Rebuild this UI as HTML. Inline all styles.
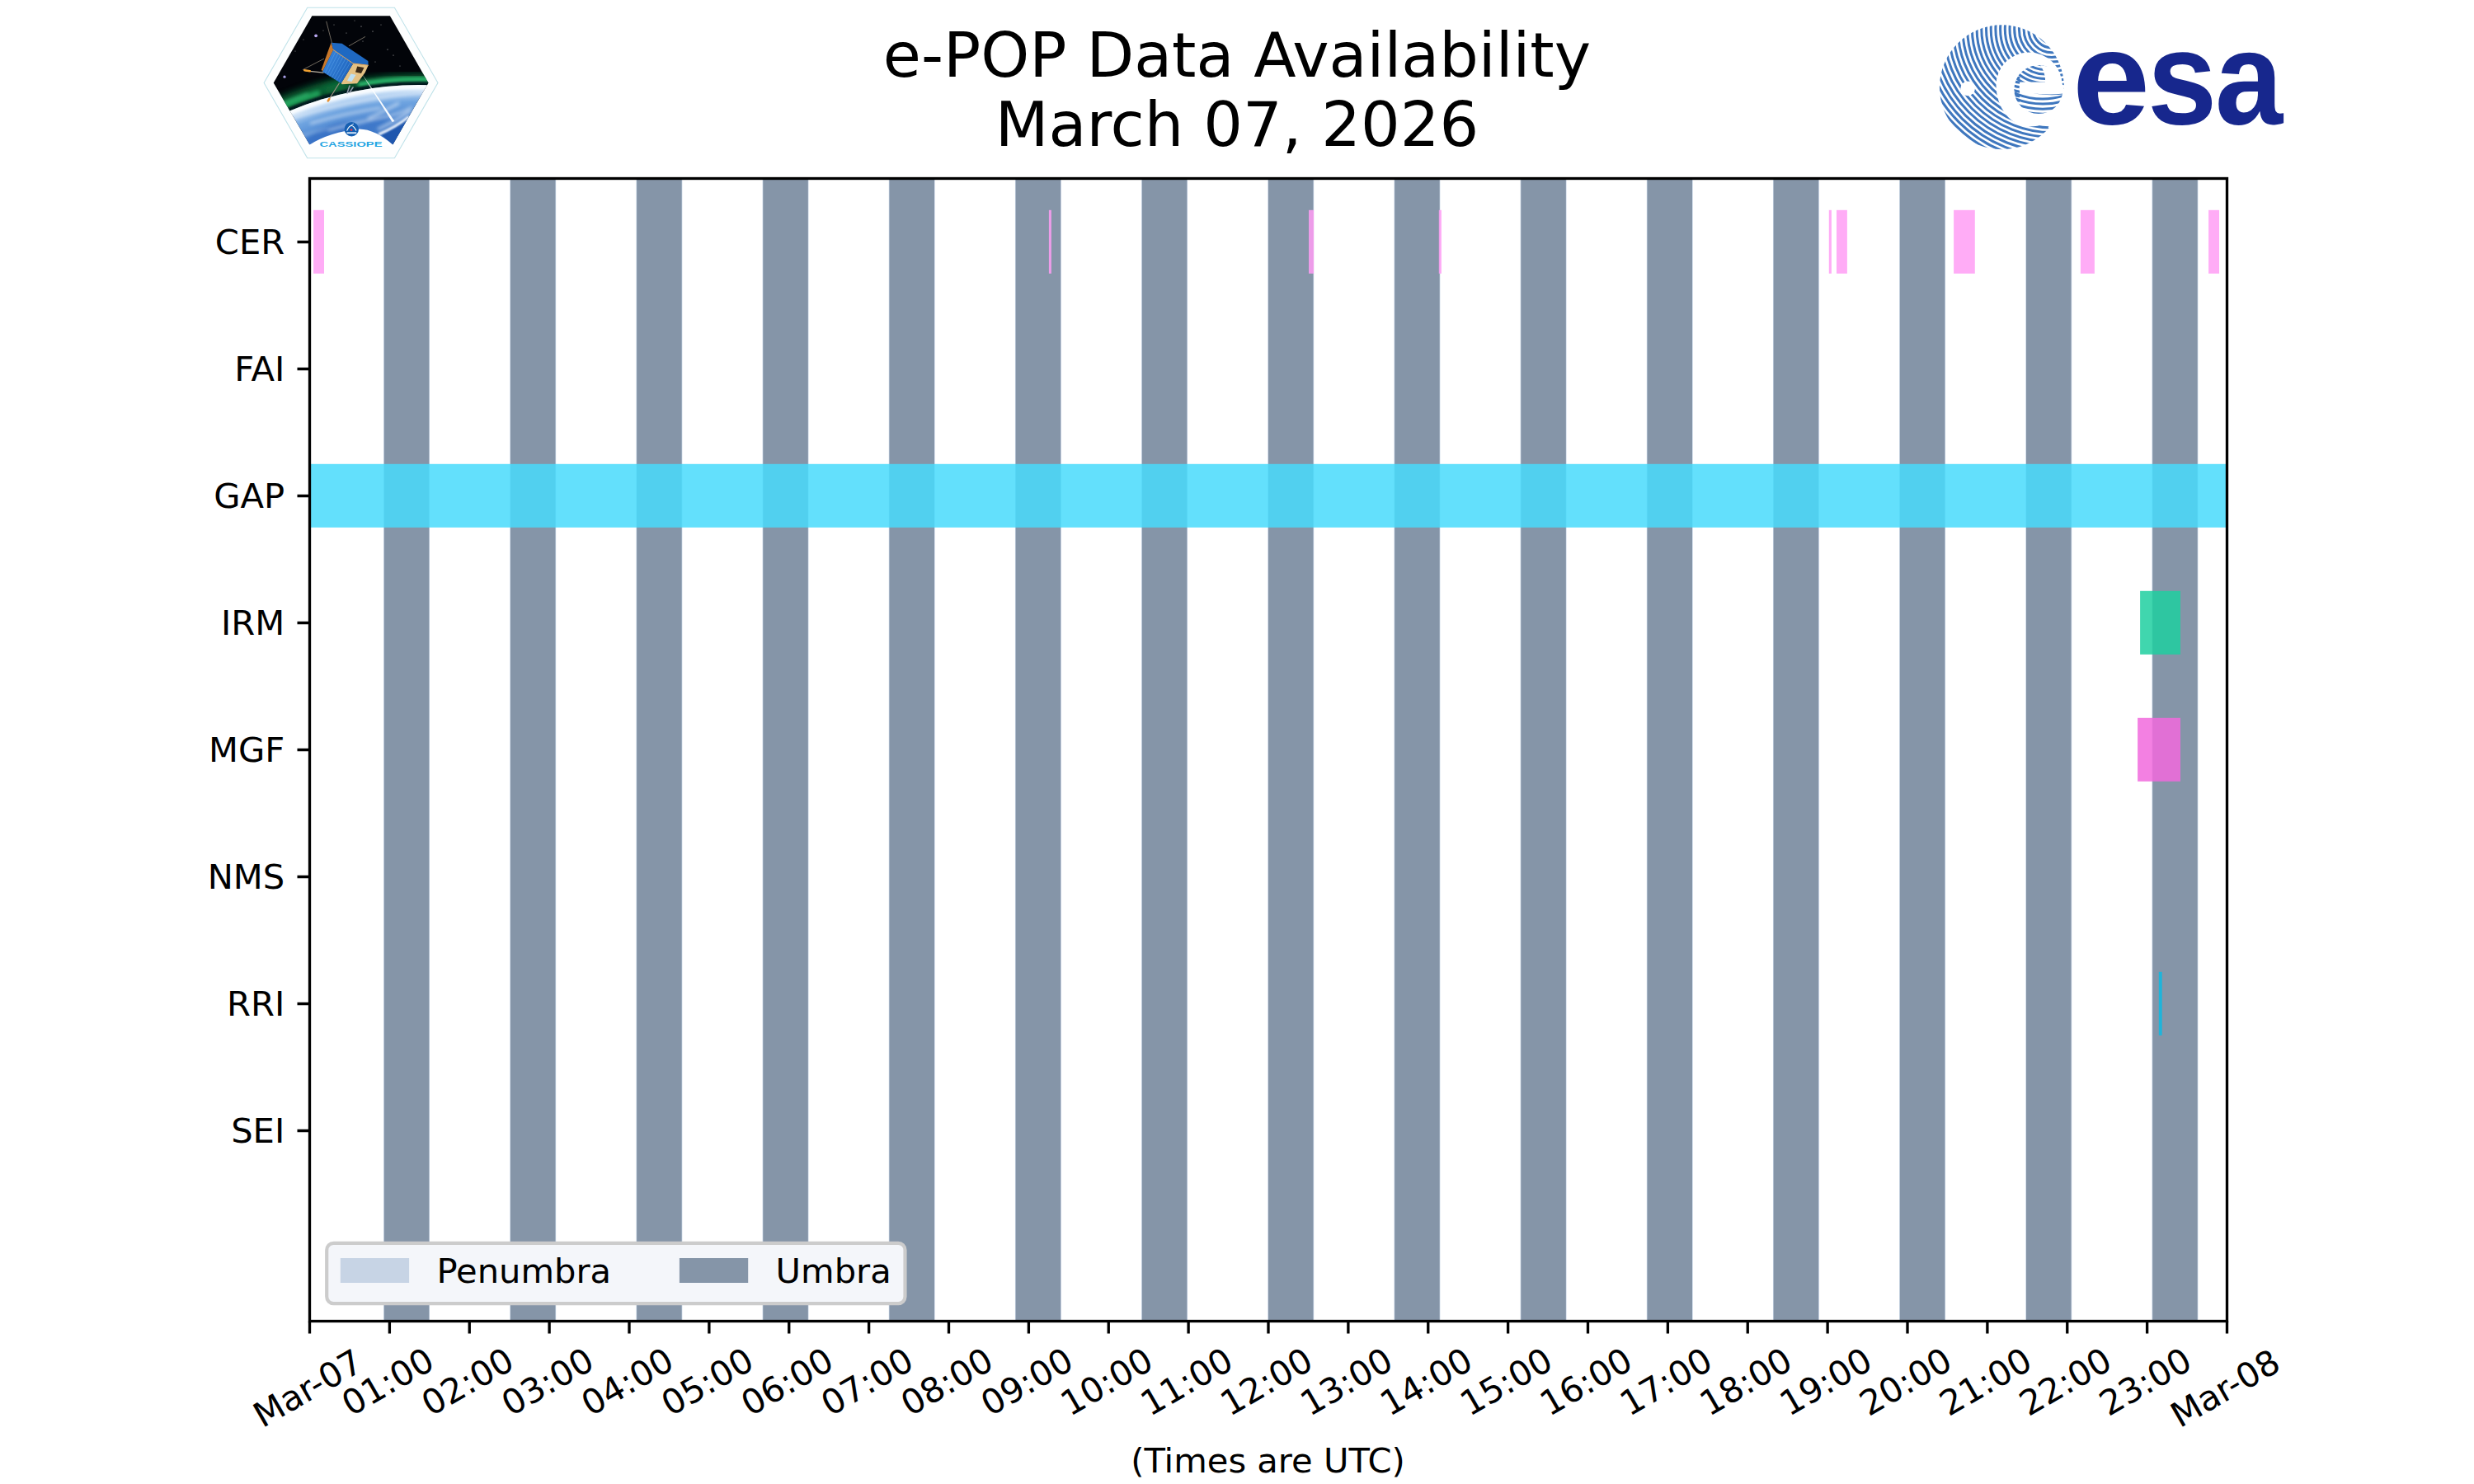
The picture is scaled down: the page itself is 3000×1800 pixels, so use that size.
<!DOCTYPE html>
<html lang="en">
<head>
<meta charset="utf-8">
<title>e-POP Data Availability - March 07, 2026</title>
<style>
html,body{margin:0;padding:0;background:#fff;}
body{width:3000px;height:1800px;overflow:hidden;}
svg{display:block;}
</style>
</head>
<body>
<svg width="3000" height="1800" viewBox="0 0 3000 1800">
<rect width="3000" height="1800" fill="#fff"/>
<g id="plot">
<rect x="465.10" y="216.5" width="55.90" height="1386.0" fill="#C7D4E5"/>
<rect x="465.80" y="216.5" width="54.50" height="1386.0" fill="#8595A8"/>
<rect x="618.27" y="216.5" width="55.90" height="1386.0" fill="#C7D4E5"/>
<rect x="618.97" y="216.5" width="54.50" height="1386.0" fill="#8595A8"/>
<rect x="771.44" y="216.5" width="55.90" height="1386.0" fill="#C7D4E5"/>
<rect x="772.14" y="216.5" width="54.50" height="1386.0" fill="#8595A8"/>
<rect x="924.61" y="216.5" width="55.90" height="1386.0" fill="#C7D4E5"/>
<rect x="925.31" y="216.5" width="54.50" height="1386.0" fill="#8595A8"/>
<rect x="1077.78" y="216.5" width="55.90" height="1386.0" fill="#C7D4E5"/>
<rect x="1078.48" y="216.5" width="54.50" height="1386.0" fill="#8595A8"/>
<rect x="1230.95" y="216.5" width="55.90" height="1386.0" fill="#C7D4E5"/>
<rect x="1231.65" y="216.5" width="54.50" height="1386.0" fill="#8595A8"/>
<rect x="1384.12" y="216.5" width="55.90" height="1386.0" fill="#C7D4E5"/>
<rect x="1384.82" y="216.5" width="54.50" height="1386.0" fill="#8595A8"/>
<rect x="1537.29" y="216.5" width="55.90" height="1386.0" fill="#C7D4E5"/>
<rect x="1537.99" y="216.5" width="54.50" height="1386.0" fill="#8595A8"/>
<rect x="1690.46" y="216.5" width="55.90" height="1386.0" fill="#C7D4E5"/>
<rect x="1691.16" y="216.5" width="54.50" height="1386.0" fill="#8595A8"/>
<rect x="1843.63" y="216.5" width="55.90" height="1386.0" fill="#C7D4E5"/>
<rect x="1844.33" y="216.5" width="54.50" height="1386.0" fill="#8595A8"/>
<rect x="1996.80" y="216.5" width="55.90" height="1386.0" fill="#C7D4E5"/>
<rect x="1997.50" y="216.5" width="54.50" height="1386.0" fill="#8595A8"/>
<rect x="2149.97" y="216.5" width="55.90" height="1386.0" fill="#C7D4E5"/>
<rect x="2150.67" y="216.5" width="54.50" height="1386.0" fill="#8595A8"/>
<rect x="2303.14" y="216.5" width="55.90" height="1386.0" fill="#C7D4E5"/>
<rect x="2303.84" y="216.5" width="54.50" height="1386.0" fill="#8595A8"/>
<rect x="2456.31" y="216.5" width="55.90" height="1386.0" fill="#C7D4E5"/>
<rect x="2457.01" y="216.5" width="54.50" height="1386.0" fill="#8595A8"/>
<rect x="2609.48" y="216.5" width="55.90" height="1386.0" fill="#C7D4E5"/>
<rect x="2610.18" y="216.5" width="54.50" height="1386.0" fill="#8595A8"/>
<rect x="380.10" y="254.80" width="12.90" height="77" fill="#FF9EF5" fill-opacity="0.85"/>
<rect x="1271.90" y="254.80" width="3.00" height="77" fill="#FF9EF5" fill-opacity="0.85"/>
<rect x="1587.00" y="254.80" width="6.10" height="77" fill="#FF9EF5" fill-opacity="0.85"/>
<rect x="1744.80" y="254.80" width="3.10" height="77" fill="#FF9EF5" fill-opacity="0.85"/>
<rect x="2217.80" y="254.80" width="3.10" height="77" fill="#FF9EF5" fill-opacity="0.85"/>
<rect x="2227.00" y="254.80" width="12.90" height="77" fill="#FF9EF5" fill-opacity="0.85"/>
<rect x="2369.10" y="254.80" width="25.70" height="77" fill="#FF9EF5" fill-opacity="0.85"/>
<rect x="2522.90" y="254.80" width="17.00" height="77" fill="#FF9EF5" fill-opacity="0.85"/>
<rect x="2678.10" y="254.80" width="12.90" height="77" fill="#FF9EF5" fill-opacity="0.85"/>
<rect x="375.50" y="562.80" width="2325.00" height="77" fill="#48DAFB" fill-opacity="0.85"/>
<rect x="2595.10" y="716.80" width="48.90" height="77" fill="#1ECFA0" fill-opacity="0.85"/>
<rect x="2592.10" y="870.80" width="51.90" height="77" fill="#F16ADD" fill-opacity="0.85"/>
<rect x="2617.80" y="1178.80" width="3.90" height="77" fill="#12B8E0" fill-opacity="0.9"/>
</g>
<rect x="375.5" y="216.5" width="2325.0" height="1386.0" fill="none" stroke="#000" stroke-width="3.33"/>
<path d="M375.50 1602.5v15 M472.38 1602.5v15 M569.25 1602.5v15 M666.12 1602.5v15 M763.00 1602.5v15 M859.88 1602.5v15 M956.75 1602.5v15 M1053.62 1602.5v15 M1150.50 1602.5v15 M1247.38 1602.5v15 M1344.25 1602.5v15 M1441.12 1602.5v15 M1538.00 1602.5v15 M1634.88 1602.5v15 M1731.75 1602.5v15 M1828.62 1602.5v15 M1925.50 1602.5v15 M2022.38 1602.5v15 M2119.25 1602.5v15 M2216.12 1602.5v15 M2313.00 1602.5v15 M2409.88 1602.5v15 M2506.75 1602.5v15 M2603.62 1602.5v15 M2700.50 1602.5v15 M375.5 293.5h-15 M375.5 447.5h-15 M375.5 601.5h-15 M375.5 755.5h-15 M375.5 909.5h-15 M375.5 1063.5h-15 M375.5 1217.5h-15 M375.5 1371.5h-15" stroke="#000" stroke-width="3.33" fill="none"/>
<g font-family='"DejaVu Sans", "Liberation Sans", sans-serif' fill="#000">
<text x="1500" y="93.3" font-size="75" text-anchor="middle">e-POP Data Availability</text>
<text x="1500" y="176.9" font-size="75" text-anchor="middle">March 07, 2026</text>
<text x="345.2" y="308.3" font-size="41.67" text-anchor="end">CER</text>
<text x="345.2" y="462.3" font-size="41.67" text-anchor="end">FAI</text>
<text x="345.2" y="616.3" font-size="41.67" text-anchor="end">GAP</text>
<text x="345.2" y="770.3" font-size="41.67" text-anchor="end">IRM</text>
<text x="345.2" y="924.3" font-size="41.67" text-anchor="end">MGF</text>
<text x="345.2" y="1078.3" font-size="41.67" text-anchor="end">NMS</text>
<text x="345.2" y="1232.3" font-size="41.67" text-anchor="end">RRI</text>
<text x="345.2" y="1386.3" font-size="41.67" text-anchor="end">SEI</text>
<text transform="translate(373.30 1683.9) rotate(-30)" font-size="41.67" text-anchor="middle" dominant-baseline="central">Mar-07</text>
<text transform="translate(470.18 1676.0) rotate(-30)" font-size="41.67" text-anchor="middle" dominant-baseline="central">01:00</text>
<text transform="translate(567.05 1676.0) rotate(-30)" font-size="41.67" text-anchor="middle" dominant-baseline="central">02:00</text>
<text transform="translate(663.92 1676.0) rotate(-30)" font-size="41.67" text-anchor="middle" dominant-baseline="central">03:00</text>
<text transform="translate(760.80 1676.0) rotate(-30)" font-size="41.67" text-anchor="middle" dominant-baseline="central">04:00</text>
<text transform="translate(857.67 1676.0) rotate(-30)" font-size="41.67" text-anchor="middle" dominant-baseline="central">05:00</text>
<text transform="translate(954.55 1676.0) rotate(-30)" font-size="41.67" text-anchor="middle" dominant-baseline="central">06:00</text>
<text transform="translate(1051.42 1676.0) rotate(-30)" font-size="41.67" text-anchor="middle" dominant-baseline="central">07:00</text>
<text transform="translate(1148.30 1676.0) rotate(-30)" font-size="41.67" text-anchor="middle" dominant-baseline="central">08:00</text>
<text transform="translate(1245.17 1676.0) rotate(-30)" font-size="41.67" text-anchor="middle" dominant-baseline="central">09:00</text>
<text transform="translate(1342.05 1676.0) rotate(-30)" font-size="41.67" text-anchor="middle" dominant-baseline="central">10:00</text>
<text transform="translate(1438.92 1676.0) rotate(-30)" font-size="41.67" text-anchor="middle" dominant-baseline="central">11:00</text>
<text transform="translate(1535.80 1676.0) rotate(-30)" font-size="41.67" text-anchor="middle" dominant-baseline="central">12:00</text>
<text transform="translate(1632.67 1676.0) rotate(-30)" font-size="41.67" text-anchor="middle" dominant-baseline="central">13:00</text>
<text transform="translate(1729.55 1676.0) rotate(-30)" font-size="41.67" text-anchor="middle" dominant-baseline="central">14:00</text>
<text transform="translate(1826.42 1676.0) rotate(-30)" font-size="41.67" text-anchor="middle" dominant-baseline="central">15:00</text>
<text transform="translate(1923.30 1676.0) rotate(-30)" font-size="41.67" text-anchor="middle" dominant-baseline="central">16:00</text>
<text transform="translate(2020.17 1676.0) rotate(-30)" font-size="41.67" text-anchor="middle" dominant-baseline="central">17:00</text>
<text transform="translate(2117.05 1676.0) rotate(-30)" font-size="41.67" text-anchor="middle" dominant-baseline="central">18:00</text>
<text transform="translate(2213.93 1676.0) rotate(-30)" font-size="41.67" text-anchor="middle" dominant-baseline="central">19:00</text>
<text transform="translate(2310.80 1676.0) rotate(-30)" font-size="41.67" text-anchor="middle" dominant-baseline="central">20:00</text>
<text transform="translate(2407.68 1676.0) rotate(-30)" font-size="41.67" text-anchor="middle" dominant-baseline="central">21:00</text>
<text transform="translate(2504.55 1676.0) rotate(-30)" font-size="41.67" text-anchor="middle" dominant-baseline="central">22:00</text>
<text transform="translate(2601.43 1676.0) rotate(-30)" font-size="41.67" text-anchor="middle" dominant-baseline="central">23:00</text>
<text transform="translate(2698.30 1683.9) rotate(-30)" font-size="41.67" text-anchor="middle" dominant-baseline="central">Mar-08</text>
<text x="1537.5" y="1786.3" font-size="41.67" text-anchor="middle">(Times are UTC)</text>
</g>
<g id="legend">
<rect x="396.2" y="1507.9" width="701.3" height="73.2" rx="8.3" ry="8.3" fill="#F4F6FA" stroke="#CCCCCC" stroke-width="4.17"/>
<rect x="412.8" y="1526.0" width="83.3" height="30" fill="#C7D4E5"/>
<rect x="823.9" y="1526.0" width="83.3" height="30" fill="#8595A8"/>
<g font-family='"DejaVu Sans", "Liberation Sans", sans-serif' fill="#000" font-size="41.67"><text x="529.4" y="1556.2">Penumbra</text><text x="940.6" y="1556.2">Umbra</text></g>
</g>
<g id="esa">
<defs><clipPath id="cg"><circle cx="2427.4" cy="105.8" r="75.5"/></clipPath><clipPath id="ce"><circle cx="2472" cy="108.5" r="29.6"/></clipPath><clipPath id="ceye"><rect x="2440" y="76" width="45" height="23.8"/></clipPath><clipPath id="clow"><rect x="2440" y="112" width="70" height="30"/></clipPath></defs>
<g clip-path="url(#cg)">
<g fill="none" stroke="#3F77BE" stroke-width="3.0">
<circle cx="2488" cy="35.5" r="5.40"/>
<circle cx="2488" cy="35.5" r="11.10"/>
<circle cx="2488" cy="35.5" r="16.80"/>
<circle cx="2488" cy="35.5" r="22.50"/>
<circle cx="2488" cy="35.5" r="28.20"/>
<circle cx="2488" cy="35.5" r="33.90"/>
<circle cx="2488" cy="35.5" r="39.60"/>
<circle cx="2488" cy="35.5" r="45.30"/>
<circle cx="2488" cy="35.5" r="51.00"/>
<circle cx="2488" cy="35.5" r="56.70"/>
<circle cx="2488" cy="35.5" r="62.40"/>
<circle cx="2488" cy="35.5" r="68.10"/>
<circle cx="2488" cy="35.5" r="73.80"/>
<circle cx="2488" cy="35.5" r="79.50"/>
<circle cx="2488" cy="35.5" r="85.20"/>
<circle cx="2488" cy="35.5" r="90.90"/>
<circle cx="2488" cy="35.5" r="96.60"/>
<circle cx="2488" cy="35.5" r="102.30"/>
<circle cx="2488" cy="35.5" r="108.00"/>
<circle cx="2488" cy="35.5" r="113.70"/>
<circle cx="2488" cy="35.5" r="119.40"/>
<circle cx="2488" cy="35.5" r="125.10"/>
<circle cx="2488" cy="35.5" r="130.80"/>
<circle cx="2488" cy="35.5" r="136.50"/>
<circle cx="2488" cy="35.5" r="142.20"/>
<circle cx="2488" cy="35.5" r="147.90"/>
<circle cx="2488" cy="35.5" r="153.60"/>
<circle cx="2488" cy="35.5" r="159.30"/>
<circle cx="2488" cy="35.5" r="165.00"/>
<circle cx="2488" cy="35.5" r="170.70"/>
</g>
<path d="M2420.5 103.4 A40 40 0 0 1 2500.5 103.4 C2503 135 2490 153.4 2460.5 153.4 A40 50 0 0 1 2420.5 103.4 Z" fill="#fff"/>
<path d="M2495 103 L2510 103 L2510 150 L2487.5 156.5 L2484 153 L2470 150 Z" fill="#fff"/>
<circle cx="2386.1" cy="107.4" r="8.8" fill="#fff"/>
<g clip-path="url(#ce)">
<g fill="none" stroke="#3F77BE" stroke-width="3.0">
<circle cx="2480" cy="48.6" r="30.4" clip-path="url(#ceye)"/>
<circle cx="2480" cy="48.6" r="35.9" clip-path="url(#ceye)"/>
<circle cx="2480" cy="48.6" r="41.4" clip-path="url(#ceye)"/>
<circle cx="2480" cy="48.6" r="46.9" clip-path="url(#ceye)"/>
<circle cx="2480" cy="48.6" r="52.4" clip-path="url(#ceye)"/>
<circle cx="2480" cy="48.6" r="57.9" clip-path="url(#ceye)"/>
<circle cx="2480" cy="48.6" r="63.4" clip-path="url(#ceye)"/>
<circle cx="2480" cy="48.6" r="68.9" clip-path="url(#ceye)"/>
<path d="M2440 76.0 Q2445 77.5 2449.3 78.2"/>
<path d="M2440 81.5 Q2445 83.0 2449.3 83.7"/>
<path d="M2440 87.0 Q2445 88.5 2449.3 89.2"/>
<path d="M2440 92.5 Q2445 94.0 2449.3 94.7"/>
<path d="M2440 98.0 Q2445 99.5 2449.3 100.2"/>
<path d="M2440 103.5 Q2445 105.0 2449.3 105.7"/>
<path d="M2440 109.0 Q2445 110.5 2449.3 111.2"/>
<path d="M2440 114.5 Q2445 116.0 2449.3 116.7"/>
<path d="M2440 120.0 Q2445 121.5 2449.3 122.2"/>
<circle cx="2477" cy="35" r="85.00" clip-path="url(#clow)"/>
<circle cx="2477" cy="35" r="91.07" clip-path="url(#clow)"/>
<circle cx="2477" cy="35" r="97.14" clip-path="url(#clow)"/>
<circle cx="2477" cy="35" r="103.21" clip-path="url(#clow)"/>
</g>
<path d="M2465 113.2 Q2484 115.6 2502 113.6 L2502 114.4 Q2484 116.4 2465 113.2Z" fill="#3F77BE"/>
<path d="M2449.5 99.8 H2510 V112.8 H2449.5 Q2447.8 106.3 2449.5 99.8 Z" fill="#fff"/>
<path d="M2472 76 Q2481 88 2480 100 H2510 V70 Z" fill="#fff"/>
</g>
</g>
<path d="M2502.9 108 A75.5 75.5 0 0 1 2484.5 155.4" stroke="#fff" stroke-width="2.6" fill="none"/>
<text aria-label="esa" y="149.9" font-family='"Liberation Sans", sans-serif' font-weight="700" font-size="162" fill="#17278D"><tspan x="2513" textLength="94.1" lengthAdjust="spacingAndGlyphs">e</tspan><tspan x="2603.9" textLength="84.3" lengthAdjust="spacingAndGlyphs">s</tspan><tspan x="2686.1" textLength="82.2" lengthAdjust="spacingAndGlyphs">a</tspan></text>
</g>
<g id="cassiope">
<defs>
<clipPath id="hx"><path d="M331.7 100.4 L378.4 19.2 L472.9 19.2 L519.4 100.4 L476.4 175.3 L375.4 175.3 Z"/></clipPath>
<clipPath id="earthc"><circle cx="507.7" cy="508.6" r="405.5"/></clipPath>
<filter id="b1" x="-20%" y="-20%" width="140%" height="140%"><feGaussianBlur stdDeviation="1"/></filter>
<filter id="b2" x="-20%" y="-50%" width="140%" height="200%"><feGaussianBlur stdDeviation="2.2"/></filter>
<filter id="b4" x="-20%" y="-50%" width="140%" height="200%"><feGaussianBlur stdDeviation="4"/></filter>
<radialGradient id="eg" gradientUnits="userSpaceOnUse" cx="507.7" cy="508.6" r="405.5">
<stop offset="0.82" stop-color="#2F66BC"/>
<stop offset="0.90" stop-color="#4A84D0"/>
<stop offset="0.95" stop-color="#6FA4E0"/>
<stop offset="0.975" stop-color="#A9CBF0"/>
<stop offset="0.992" stop-color="#E2F0FC"/>
<stop offset="1" stop-color="#F2F9FF"/>
</radialGradient>
<linearGradient id="pan" x1="0" y1="0" x2="1" y2="0.6"><stop offset="0" stop-color="#3C8AE0"/><stop offset="1" stop-color="#1E63BC"/></linearGradient>
</defs>
<path d="M320.1 100.4 L372.7 9.2 L478.4 9.2 L531 100.4 L478.4 191.8 L372.7 191.8 Z" fill="#FDFEFE" stroke="#BFE2E9" stroke-width="1.1"/>
<g clip-path="url(#hx)">
<rect x="325" y="15" width="200" height="165" fill="#020409"/>
<circle cx="383.1" cy="43.3" r="1.9" fill="#B9A8F0"/>
<circle cx="345" cy="93.2" r="1.6" fill="#A9A0E8"/>
<circle cx="438" cy="32" r="0.6" fill="#ccc"/>
<circle cx="420" cy="40" r="0.5" fill="#bbb"/>
<circle cx="452" cy="38" r="0.6" fill="#ccc"/>
<circle cx="470" cy="60" r="0.6" fill="#ccc"/>
<circle cx="462" cy="30" r="0.5" fill="#aaa"/>
<circle cx="477" cy="67" r="0.6" fill="#bbb"/>
<circle cx="358" cy="62" r="0.5" fill="#aaa"/>
<circle cx="405" cy="30" r="0.5" fill="#aaa"/>
<circle cx="455" cy="75" r="0.5" fill="#aaa"/>
<circle cx="440" cy="50" r="0.5" fill="#bbb"/>
<circle cx="392" cy="37" r="0.5" fill="#999"/>
<circle cx="368" cy="48" r="0.5" fill="#999"/>
<circle cx="485" cy="80" r="0.5" fill="#aaa"/>
<circle cx="430" cy="25" r="0.5" fill="#999"/>
<path d="M322.0 135.8 L329.0 132.4 L336.0 129.1 L343.0 126.0 L350.0 123.1 L357.0 120.3 L364.0 117.7 L371.0 115.2 L378.0 112.8 L385.0 110.6 L392.0 108.5 L399.0 106.5 L406.0 104.7 L413.0 103.0 L420.0 101.4" fill="none" stroke="#0A6E3A" stroke-width="17" filter="url(#b4)" opacity="0.9"/>
<path d="M395.0 110.8 L404.6 108.1 L414.3 105.8 L423.9 103.7 L433.6 101.8 L443.2 100.2 L452.9 98.8 L462.5 97.6 L472.1 96.6 L481.8 95.9 L491.4 95.4 L501.1 95.2 L510.7 95.1 L520.4 95.3 L530.0 95.7" fill="none" stroke="#0A6E3A" stroke-width="10" filter="url(#b4)" opacity="0.9"/>
<path d="M326.0 137.2 L330.4 135.0 L334.9 133.0 L339.3 131.0 L343.7 129.0 L348.1 127.1 L352.6 125.3 L357.0 123.5 L361.4 121.8 L365.9 120.2 L370.3 118.6 L374.7 117.1 L379.1 115.6 L383.6 114.2 L388.0 112.8" fill="none" stroke="#27B868" stroke-width="7" filter="url(#b2)" opacity="0.75"/>
<path d="M336.0 128.6 L338.7 127.4 L341.4 126.2 L344.1 125.0 L346.9 123.9 L349.6 122.7 L352.3 121.6 L355.0 120.6 L357.7 119.5 L360.4 118.5 L363.1 117.5 L365.9 116.5 L368.6 115.5 L371.3 114.5 L374.0 113.6" fill="none" stroke="#4CD88A" stroke-width="2.5" filter="url(#b2)" opacity="0.6"/>
<path d="M434.0 102.7 L440.7 101.6 L447.4 100.5 L454.1 99.6 L460.9 98.8 L467.6 98.1 L474.3 97.5 L481.0 97.0 L487.7 96.6 L494.4 96.3 L501.1 96.2 L507.9 96.1 L514.6 96.2 L521.3 96.3 L528.0 96.6" fill="none" stroke="#2EC676" stroke-width="6" filter="url(#b2)" opacity="0.9"/>
<circle cx="507.7" cy="508.6" r="407.3" fill="none" stroke="#031420" stroke-width="3.6" filter="url(#b1)" opacity="0.9"/>
<circle cx="507.7" cy="508.6" r="405.5" fill="url(#eg)"/>
<g clip-path="url(#earthc)">
<circle cx="507.7" cy="508.6" r="403" fill="none" stroke="#FFFFFF" stroke-width="5" filter="url(#b2)" opacity="0.9"/>
<ellipse cx="398" cy="162" rx="30" ry="8" transform="rotate(-22 398 162)" fill="#2F68C0" opacity="0.55" filter="url(#b2)"/>
<ellipse cx="452" cy="150" rx="22" ry="5" transform="rotate(-25 452 150)" fill="#356EC4" opacity="0.45" filter="url(#b2)"/>
<path d="M356 143 Q400 128 470 117 Q500 113 522 112" fill="none" stroke="#fff" stroke-width="3" filter="url(#b2)" opacity="0.6"/>
<path d="M376 150 Q420 137 462 131" fill="none" stroke="#fff" stroke-width="2.2" filter="url(#b2)" opacity="0.7"/>
<path d="M398 158 Q430 149 466 142 Q486 138 500 130" fill="none" stroke="#fff" stroke-width="2.4" filter="url(#b2)" opacity="0.6"/>
<path d="M446 144 Q462 137 484 125" fill="none" stroke="#fff" stroke-width="3.5" filter="url(#b2)" opacity="0.5"/>
<path d="M362 166 Q380 160 398 156" fill="none" stroke="#fff" stroke-width="1.6" filter="url(#b2)" opacity="0.45"/>
<path d="M458 157 Q480 147 498 134" fill="none" stroke="#fff" stroke-width="3" filter="url(#b2)" opacity="0.6"/>
</g>
<path d="M462.7 163.5 Q480 156 495 143 L476.4 176 Z" fill="#1F57AE"/>
<path d="M459 163 Q480 154 496 141.5" fill="none" stroke="#fff" stroke-width="3" filter="url(#b1)" opacity="0.9"/>
<path d="M437.2 87 L475.6 148 L478.4 147 Z" fill="#fff" opacity="0.95"/>
<g stroke-linecap="round">
<path d="M395.8 26.2 L402.4 52 M442.7 44.6 L423.4 55.6 M367.3 84.5 L392.7 71.3" stroke="#7C7468" stroke-width="0.9" fill="none"/>
<path d="M371 85.8 L392 88.2" stroke="#B8B0A0" stroke-width="1.3"/>
<path d="M369.3 85.2 L375.8 86.2" stroke="#F0A030" stroke-width="2.6"/>
<path d="M411.3 101 L398.6 121" stroke="#A09080" stroke-width="1.2"/>
<path d="M399.3 120 L397.8 122.3" stroke="#E89030" stroke-width="2.6"/>
<path d="M424 104 L421 113 M428 106 L424 112" stroke="#9098A8" stroke-width="1.6"/>
</g>
<path d="M401.6 51.6 L404.4 60.2 L391 87.1 L389.8 84.2 Z" fill="#C9782A"/>
<path d="M401.9 51.8 L414.6 52.7 L446.4 74 L446.6 79.2 L428.2 77 L404.1 60.4 Z" fill="#1F69C2"/>
<path d="M428.2 77 L446.6 79.2 L442.7 88 L433 101.3 L414.6 102.2 L413.7 101.1 Z" fill="#E4C184"/>
<path d="M433.2 80.5 L441.5 82 L438 89 L431 87.5 Z" fill="#3A2A18"/>
<path d="M425.5 89.5 L431.5 90.8 L426.5 99 L421 98 Z" fill="#BFE0F2"/>
<path d="M404.1 60.4 L428.2 77 L413.7 101.1 L391 87.1 Z" fill="url(#pan)"/>
<path d="M407.1 62.5 L394 89 M410.1 64.5 L396.8 90.7 M413.1 66.6 L399.7 92.4 M416.1 68.7 L402.5 94.2 M419.2 70.8 L405.3 96 M422.2 72.9 L408.2 97.7 M425.2 74.9 L411 99.4" stroke="#5FA6EC" stroke-width="0.6" fill="none" opacity="0.8"/>
<path d="M404.1 60.4 L428.2 77 L446.6 79.2" stroke="#E8A85C" stroke-width="1" fill="none"/>
</g>
<path d="M375.2 175.8 Q400 160 435.9 156.6 Q455 157 476.6 175.8 L476.8 176.6 L375 176.6 Z" fill="#fff"/>
<circle cx="426.3" cy="156.7" r="8.7" fill="#155FB2"/>
<path d="M420.6 158.6 Q426 146.5 432 158.6" fill="none" stroke="#fff" stroke-width="1.1"/>
<path d="M423.6 153.6 L428.8 150.2" stroke="#fff" stroke-width="0.9"/>
<circle cx="426.1" cy="157.6" r="1.3" fill="#E8344A"/>
<rect x="420.6" y="160.3" width="11.6" height="1.8" fill="#DCEBFA"/>
<text transform="translate(387.5 177.9) scale(1.69 1)" font-family='"Liberation Sans", sans-serif' font-weight="700" font-size="8.7" fill="#1FA4E2">CASSIOPE</text>
</g>
</svg>
</body>
</html>
